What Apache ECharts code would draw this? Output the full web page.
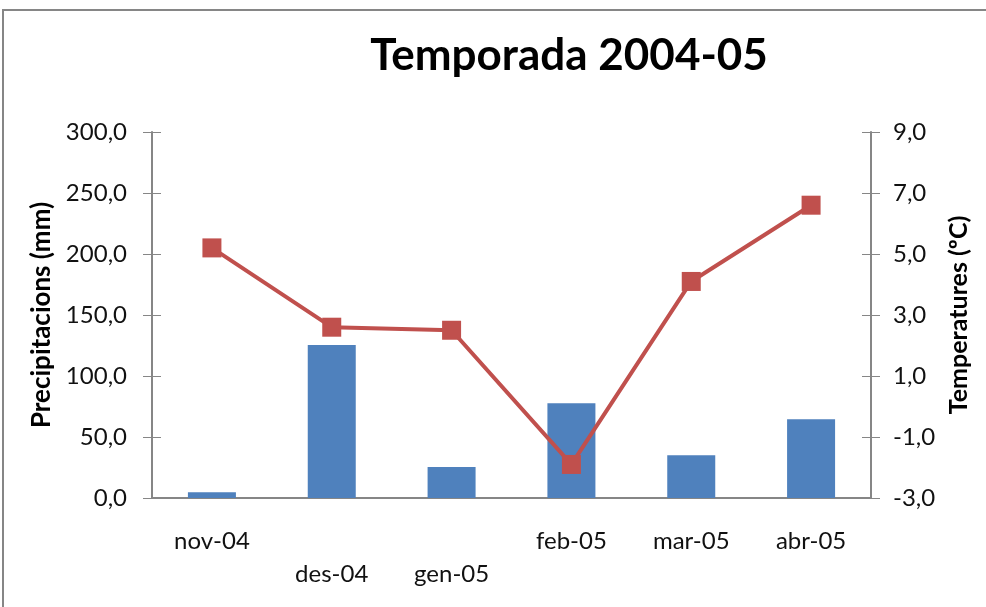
<!DOCTYPE html>
<html>
<head>
<meta charset="utf-8">
<script src="https://cdn.jsdelivr.net/npm/echarts@6/dist/echarts.min.js"></script>
<style>
html,body{margin:0;padding:0;background:#fff;}
#chart{width:986px;height:607px;}
</style>
</head>
<body>
<div id="chart"></div>
<script>
var months = ['nov-04', 'des-04', 'gen-05', 'feb-05', 'mar-05', 'abr-05'];
var precip = [4.7, 125.4, 25.4, 77.6, 35.0, 64.5];
var temp = [5.2, 2.6, 2.5, -1.9, 4.1, 6.6];
var lowLabels = [1, 2]; // labels Excel pushed to the second row

var font = 'Lato';
var axisGray = '#868686';

function comma(v) {
	return v.toFixed(1).replace('.', ',');
}

var chart = echarts.init(document.getElementById('chart'));
var option = {
	animation: false,
	graphic: [{
		type: 'rect',
		shape: {x: 3, y: 10, width: 1000, height: 700},
		style: {fill: 'none', stroke: axisGray, lineWidth: 2}
	}],
	title: {
		text: 'Temporada 2004-05',
		left: 564,
		top: 29,
		textAlign: 'center',
		textStyle: {fontFamily: font, fontWeight: 'bold', fontSize: 44, color: '#000'}
	},
	grid: {left: 152, right: 115, top: 132, bottom: 109},
	xAxis: [{
		type: 'category',
		data: months,
		axisLine: {lineStyle: {color: axisGray, width: 2}},
		axisTick: {length: 9, lineStyle: {color: axisGray}},
		axisLabel: {
			interval: 0,
			margin: 27,
			lineHeight: 33,
			fontFamily: font,
			fontSize: 24,
			color: '#111',
			formatter: function (v, i) {
				return lowLabels.indexOf(i) >= 0 ? '\n' + v : v;
			}
		}
	}, {
		type: 'category',
		data: months,
		position: 'bottom',
		axisLine: {show: false},
		axisTick: {inside: true, length: 8, lineStyle: {color: axisGray}},
		axisLabel: {show: false}
	}],
	yAxis: [{
		type: 'value',
		min: 0,
		max: 300,
		interval: 50,
		name: 'Precipitacions (mm)',
		nameLocation: 'middle',
		nameGap: 88,
		nameTextStyle: {fontFamily: font, fontWeight: 'bold', fontSize: 26, color: '#000'},
		axisLine: {show: true, lineStyle: {color: axisGray, width: 2}},
		axisTick: {show: true, length: 9, lineStyle: {color: axisGray}},
		splitLine: {show: false},
		axisLabel: {margin: 25, fontFamily: font, fontSize: 24, color: '#111', formatter: comma}
	}, {
		type: 'value',
		min: -3,
		max: 9,
		interval: 2,
		position: 'right',
		name: 'Temperatures (ºC)',
		nameLocation: 'middle',
		nameGap: 62,
		nameTextStyle: {fontFamily: font, fontWeight: 'bold', fontSize: 25, color: '#000'},
		axisLine: {show: true, lineStyle: {color: axisGray, width: 2}},
		axisTick: {show: true, length: 9, lineStyle: {color: axisGray}},
		splitLine: {show: false},
		axisLabel: {margin: 22, fontFamily: font, fontSize: 24, color: '#111', formatter: comma}
	}, {
		type: 'value',
		min: 0,
		max: 300,
		interval: 50,
		position: 'left',
		axisLine: {show: false},
		axisTick: {show: true, inside: true, length: 9, lineStyle: {color: axisGray}},
		splitLine: {show: false},
		axisLabel: {show: false}
	}, {
		type: 'value',
		min: -3,
		max: 9,
		interval: 2,
		position: 'right',
		axisLine: {show: false},
		axisTick: {show: true, inside: true, length: 9, lineStyle: {color: axisGray}},
		splitLine: {show: false},
		axisLabel: {show: false}
	}],
	series: [{
		name: 'Precipitacions',
		type: 'bar',
		data: precip,
		barWidth: 48,
		itemStyle: {color: '#4F81BD'}
	}, {
		name: 'Temperatures',
		type: 'line',
		yAxisIndex: 1,
		data: temp,
		symbol: 'rect',
		symbolSize: 19,
		lineStyle: {color: '#C0504D', width: 4},
		itemStyle: {color: '#C0504D'}
	}]
};
chart.setOption(option);
</script>
</body>
</html>
